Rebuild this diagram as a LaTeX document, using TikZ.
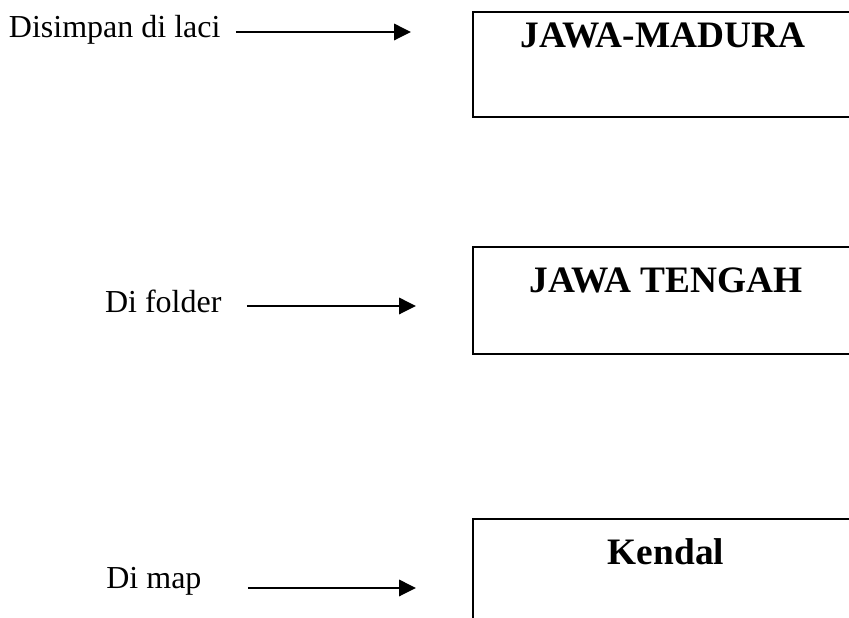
\documentclass[tikz,border=0pt]{standalone}
\usepackage{fontspec}
\setmainfont{Liberation Serif}
\usetikzlibrary{arrows.meta}
\begin{document}
\begin{tikzpicture}[x=0.375pt,y=-0.375pt,
  lbl/.style={font=\fontsize{12}{14}\selectfont, inner sep=0pt, anchor=base east},
  ttl/.style={font=\fontsize{14}{17}\selectfont\bfseries, inner sep=0pt, anchor=base},
  boxline/.style={line width=0.6pt, line join=miter},
  arr/.style={line width=1.1pt, -{Triangle[length=6.3pt,width=6pt]}}]
\useasboundingbox (0,0) rectangle (849,618);
% labels
\node[lbl] (l1) at (221,38) {Disimpan di laci};
\node[lbl] (l2) at (222,313) {Di folder};
\node[lbl] (l3) at (202,589) {Di map};
% boxes (open at the right / bottom edge of the picture)
\draw[boxline] (849,12) -- (473,12) -- (473,117) -- (849,117);
\draw[boxline] (849,247) -- (473,247) -- (473,354) -- (849,354);
\draw[boxline] (849,519) -- (473,519) -- (473,618);
% titles
\node[ttl] (t1) at (663,48) {JAWA-MADURA};
\node[ttl] (t2) at (666,293) {JAWA TENGAH};
\node[ttl] (t3) at (666,565) {Kendal};
% arrows
\coordinate (a1s) at (236,32);  \coordinate (a1e) at (411,32);
\coordinate (a2s) at (247,306); \coordinate (a2e) at (416,306);
\coordinate (a3s) at (248,588); \coordinate (a3e) at (416,588);
\draw[arr] (a1s) -- (a1e);
\draw[arr] (a2s) -- (a2e);
\draw[arr] (a3s) -- (a3e);
\end{tikzpicture}
\end{document}
